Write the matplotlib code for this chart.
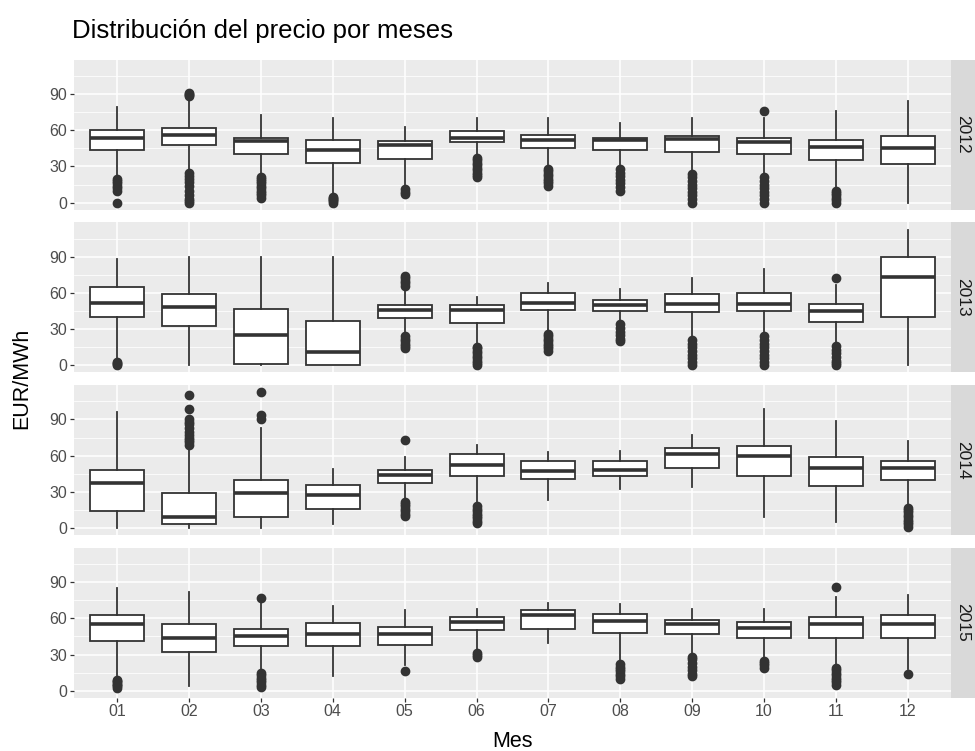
import numpy as np
import matplotlib
matplotlib.use("Agg")
import matplotlib.pyplot as plt

plt.rcParams["font.family"] = ["Liberation Sans", "DejaVu Sans"]

# Datos: una fila por año, una columna por mes
ANIOS = ["2012", "2013", "2014", "2015"]
MESES = ["01", "02", "03", "04", "05", "06", "07", "08", "09", "10", "11", "12"]

BIGOTE_INF = [
    [22, 27, 23, 7, 14, 39, 31, 31, 27, 23, 11, 0],
    [4, 0, 0, 0, 26, 17, 28, 36, 24, 27, 18, 0],
    [0, 0, 0, 3, 24, 20, 23, 32, 34, 9, 5, 20],
    [10, 4, 17, 12, 21, 34, 40, 24, 30, 28, 21, 18],
]
Q1 = [
    [44, 48, 40, 33, 36, 50, 45, 44, 42, 40, 35, 32],
    [40, 33, 1, 0, 39, 35, 46, 45, 44, 45, 36, 40],
    [14, 3, 9, 16, 37, 43, 41, 43, 50, 43, 35, 40],
    [41, 32, 37, 37, 38, 50, 51, 48, 47, 44, 44, 44],
]
MEDIANA = [
    [54, 56, 51, 44, 48, 54, 52, 52, 53, 50, 46, 45],
    [52, 48, 25, 11, 46, 46, 52, 50, 51, 51, 45, 73],
    [37, 9, 29, 27, 44, 52, 47, 48, 61, 60, 50, 50],
    [55, 44, 45, 47, 47, 57, 63, 58, 55, 52, 55, 55],
]
Q3 = [
    [60, 62, 54, 52, 51, 59, 56, 54, 55, 54, 52, 55],
    [65, 59, 47, 37, 50, 50, 60, 54, 59, 60, 51, 90],
    [48, 29, 40, 36, 48, 61, 56, 56, 66, 68, 59, 56],
    [63, 55, 51, 56, 53, 61, 67, 64, 59, 57, 61, 63],
]
BIGOTE_SUP = [
    [79, 85, 73, 70, 63, 70, 70, 66, 70, 70, 76, 84],
    [88, 90, 90, 90, 65, 57, 68, 63, 72, 80, 67, 112],
    [96, 68, 83, 49, 59, 69, 63, 64, 77, 99, 89, 72],
    [85, 82, 73, 70, 67, 68, 73, 72, 68, 68, 78, 79],
]
ATIPICOS = [
    [
        [0, 10, 12, 14, 16, 18, 20],
        [88, 89, 90, 91, 0, 1, 3, 6, 10, 14, 17, 20, 22, 25],
        [4, 6, 8, 10, 12, 14, 16, 18, 20, 21],
        [0, 1, 2, 3, 4, 5],
        [7, 9, 11],
        [21, 23, 25, 27, 29, 31, 33, 35, 37],
        [14, 16, 18, 20, 22, 24, 26, 28],
        [10, 13, 16, 19, 22, 25, 28],
        [0, 3, 6, 9, 12, 15, 18, 21, 24],
        [76, 0, 3, 6, 9, 12, 15, 18, 21],
        [0, 2, 4, 6, 8, 10],
        [],
    ],
    [
        [0, 1, 2, 3],
        [],
        [],
        [],
        [66, 68, 70, 72, 74, 14, 16, 18, 20, 22, 24],
        [0, 2, 4, 6, 8, 10, 12, 14, 15],
        [12, 14, 16, 18, 20, 22, 24, 26],
        [20, 22, 25, 28, 31, 34],
        [0, 3, 6, 9, 12, 15, 18, 21],
        [0, 3, 6, 9, 12, 15, 18, 21, 24],
        [72, 0, 2, 4, 7, 10, 13, 16],
        [],
    ],
    [
        [],
        [69, 71, 73, 75, 77, 80, 83, 86, 88, 90, 99, 110],
        [90, 94, 113],
        [],
        [73, 10, 12, 14, 16, 18, 20, 22],
        [4, 6, 8, 10, 12, 14, 16, 18],
        [],
        [],
        [],
        [],
        [],
        [1, 3, 5, 7, 9, 11, 13, 15, 17],
    ],
    [
        [2, 4, 5, 6, 7, 8, 9],
        [],
        [77, 3, 5, 7, 9, 11, 13, 15],
        [],
        [16],
        [28, 30, 31],
        [],
        [10, 12, 14, 16, 18, 20, 22],
        [12, 14, 17, 20, 23, 26, 28],
        [19, 21, 23, 25],
        [86, 5, 7, 9, 11, 13, 15, 17, 19],
        [14],
    ],
]

W, H = 975, 751
GRIS_LINEA = "#333333"

fig = plt.figure(figsize=(W / 100, H / 100), dpi=100)

# rango comun de y, con la expansion de 5% tipica de ggplot
todos = [v for fila in BIGOTE_SUP for v in fila] + [v for fila in BIGOTE_INF for v in fila]
todos += [v for anio in ATIPICOS for mes in anio for v in mes]
ymin, ymax = min(todos), max(todos)
pad = 0.05 * (ymax - ymin)

izq, der = 74, 951
alto_panel, hueco = 150, 12.7
arriba = 59.5

for i, anio in enumerate(ANIOS):
    top = arriba + i * (alto_panel + hueco)
    ax = fig.add_axes([izq / W, 1 - (top + alto_panel) / H, (der - izq) / W, alto_panel / H])
    ax.set_facecolor("#EBEBEB")

    stats = []
    for j in range(len(MESES)):
        stats.append(
            dict(
                med=MEDIANA[i][j],
                q1=Q1[i][j],
                q3=Q3[i][j],
                whislo=BIGOTE_INF[i][j],
                whishi=BIGOTE_SUP[i][j],
                fliers=ATIPICOS[i][j],
            )
        )
    ax.bxp(
        stats,
        positions=np.arange(1, len(MESES) + 1),
        widths=0.75,
        showcaps=False,
        patch_artist=True,
        boxprops=dict(facecolor="white", edgecolor=GRIS_LINEA, linewidth=1.3),
        whiskerprops=dict(color=GRIS_LINEA, linewidth=1.3),
        medianprops=dict(color=GRIS_LINEA, linewidth=2.6, solid_capstyle="butt"),
        flierprops=dict(
            marker="o", markerfacecolor=GRIS_LINEA, markeredgecolor=GRIS_LINEA,
            markersize=6, linestyle="none",
        ),
    )

    ax.set_xlim(0.4, len(MESES) + 0.6)
    ax.set_ylim(ymin - pad, ymax + pad)
    ax.set_yticks([0, 30, 60, 90])
    ax.set_yticks([15, 45, 75, 105], minor=True)
    ax.set_xticks(np.arange(1, len(MESES) + 1))
    ax.grid(which="major", color="white", linewidth=1.1)
    ax.grid(which="minor", axis="y", color="white", linewidth=0.55)
    ax.set_axisbelow(True)
    for s in ax.spines.values():
        s.set_visible(False)
    ax.tick_params(which="major", color=GRIS_LINEA, length=2.7, width=0.9,
                   labelcolor="#4D4D4D", labelsize=11.5, pad=2)
    ax.tick_params(which="minor", length=0)
    if i == len(ANIOS) - 1:
        ax.set_xticklabels(MESES)
    else:
        ax.tick_params(axis="x", length=0, labelbottom=False)

    # tira lateral con el año
    sx = fig.add_axes([der / W, 1 - (top + alto_panel) / H, 24 / W, alto_panel / H])
    sx.set_facecolor("#D9D9D9")
    sx.set_xticks([])
    sx.set_yticks([])
    for s in sx.spines.values():
        s.set_visible(False)
    sx.text(0.5, 0.5, anio, rotation=270, ha="center", va="center",
            fontsize=12.5, color="#1A1A1A", transform=sx.transAxes)

fig.text(72 / W, 1 - 38 / H, "Distribución del precio por meses",
         fontsize=18.5, color="black", ha="left", va="baseline")
fig.text(22 / W, 1 - 378 / H, "EUR/MWh", rotation=90, fontsize=15.5,
         ha="center", va="center")
fig.text(512 / W, 1 - 747 / H, "Mes", fontsize=15.5, ha="center", va="baseline")

fig.savefig("out.png", dpi=100)
